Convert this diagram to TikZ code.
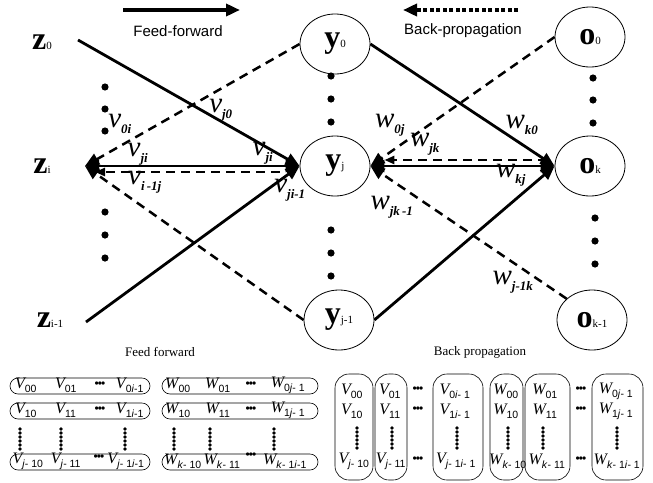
\documentclass[tikz,border=0pt]{standalone}
\usepackage{fontspec}
\setmainfont{Liberation Serif}
\setsansfont{Liberation Sans}
\usetikzlibrary{arrows.meta,shapes.geometric}
\newcommand{\nlab}[2]{{\fontsize{32}{32}\selectfont\bfseries #1}{\fontsize{11}{11}\selectfont #2}}
\newcommand{\wlab}[2]{{\fontsize{29}{29}\selectfont\itshape #1}\textsubscript{\fontsize{13}{13}\selectfont\bfseries\itshape #2}}
\newcommand{\mx}[2]{{\fontsize{16}{16}\selectfont\itshape #1}\textsubscript{\fontsize{10.5}{10.5}\selectfont\sffamily #2}}
\newcommand{\hdots}{{\fontsize{12}{12}\selectfont\bfseries •\kern-1pt•\kern-1pt•}}
\begin{document}
\begin{tikzpicture}[x=1pt,y=-1pt,
  neuron/.style={draw, ellipse, minimum width=70pt, minimum height=60pt, inner sep=0pt, line width=0.8pt},
  sol/.style={line width=2.8pt},
  dsh/.style={line width=2.5pt, dash pattern=on 9pt off 6pt},
  tip/.style={-{Triangle[length=14pt,width=12pt]}},
  tips/.style={{Triangle[length=14pt,width=12pt]}-{Triangle[length=14pt,width=12pt]}},
  stip/.style={-{Triangle[length=10pt,width=8pt]}},
  mrow/.style={draw, rounded corners=8pt, line width=0.6pt, minimum height=16pt, inner sep=0pt},
  mcol/.style={draw, rounded corners=14pt, line width=0.6pt, minimum height=106pt, inner sep=0pt},
  lab/.style={inner sep=0pt}
]
\useasboundingbox (0,0) rectangle (653,482);

% layer labels
\node[lab] (z0) at (42,42) {\nlab{z}{0}};
\node[lab] (zi) at (42,166) {\nlab{z}{i}};
\node[lab] (zi1) at (50,320) {\nlab{z}{i-1}};
\node[neuron] (y0) at (335,44) {\nlab{y}{0}};
\node[neuron] (yj) at (335,166) {\nlab{y}{j}};
\node[neuron] (yj1) at (339,320) {\nlab{y}{j-1}};
\node[neuron] (o0) at (590,37) {\nlab{o}{0}};
\node[neuron] (ok) at (590,166) {\nlab{o}{k}};
\node[neuron] (ok1) at (592,320) {\nlab{o}{k-1}};

\coordinate (z0o) at (78,40);
\coordinate (zio) at (85,166);
\coordinate (zi1o) at (86,322);

% left connectors
\draw[sol,tip] (z0o) -- (yj.west);
\draw[sol,tip] (zi1o) -- (yj.west);
\draw[sol,tips] (zio) -- (yj.west);
\draw[dsh,tip] (y0.west) -- (zio);
\draw[dsh,tip] (yj1.west) -- (zio);
\draw[dsh,stip] ([shift={(-20pt,-6pt)}]yj.west) -- ([shift={(10pt,-6pt)}]zio);

% right connectors
\draw[sol,tip] (y0.east) -- (ok.west);
\draw[sol,tip] (yj1.east) -- (ok.west);
\draw[sol,tips] (yj.east) -- (ok.west);
\draw[dsh,tip] (o0.west) -- (yj.east);
\draw[dsh,tip] (ok1.140) -- (yj.east);
\draw[dsh,stip] ([shift={(-8pt,6pt)}]ok.west) -- ([shift={(14pt,6pt)}]yj.east);

% column dots
\foreach \xx/\yy in {105/87,105/109,105/131,105/212,105/235,105/258,
                     331/76,331/99,331/122,331/230,331/253,331/276,
                     593/78,593/100,593/123,595/218,595/241,595/264}
  \fill (\xx,\yy) circle[radius=3.6pt];

% weight labels
\node[lab] (vj0) at (221,110) {\wlab{v}{j0}};
\node[lab] (v0i) at (120,124) {\wlab{v}{0i}};
\node[lab] (vji) at (138,154) {\wlab{v}{ji}};
\node[lab] (vji2) at (263,153) {\wlab{v}{ji}};
\node[lab] (vi1j) at (145,182) {\wlab{v}{i\,-1j}};
\node[lab] (vji1) at (290,190) {\wlab{v}{ji-1}};
\node[lab] (w0j) at (390,125) {\wlab{w}{0j}};
\node[lab] (wk0) at (522,125) {\wlab{w}{k0}};
\node[lab] (wjk) at (425,144) {\wlab{w}{jk}};
\node[lab] (wkj) at (511,175) {\wlab{w}{kj}};
\node[lab] (wjk1) at (392,207) {\wlab{w}{jk\,-1}};
\node[lab] (wj1k) at (513,282) {\wlab{w}{j-1k}};

% direction arrows
\coordinate (ffa) at (123,10);
\coordinate (ffb) at (240,10);
\draw[line width=3.5pt,tip] (ffa) -- (ffb);
\node[lab] (fft) at (178,31) {\sffamily\fontsize{15}{15}\selectfont Feed-forward};
\coordinate (bpa) at (518,10);
\coordinate (bpb) at (403,10);
\draw[line width=3.5pt,dash pattern=on 4pt off 2.5pt,tip] (bpa) -- (bpb);
\node[lab] (bpt) at (463,31) {\sffamily\fontsize{15}{15}\selectfont Back-propagation};

% captions
\node[lab] (cff) at (160,352) {\fontsize{13}{13}\selectfont Feed forward};
\node[lab] (cbp) at (480,352) {\fontsize{13}{13}\selectfont Back propagation};

% feed forward matrices (rows)
\node[mrow, minimum width=140pt] (vr1) at (80,386) {};
\node[mrow, minimum width=140pt] (vr2) at (80,411) {};
\node[mrow, minimum width=140pt] (vr3) at (80,462) {};
\node[mrow, minimum width=156pt] (wr1) at (240,386) {};
\node[mrow, minimum width=156pt] (wr2) at (240,411) {};
\node[mrow, minimum width=156pt] (wr3) at (240,462) {};

\node[lab] (a00) at (26,385) {\mx{V}{00}};
\node[lab] (a01) at (66,385) {\mx{V}{01}};
\node[lab] (ad1) at (100,385) {\hdots};
\node[lab] (a0n) at (130,385) {\mx{V}{0\textit{i}-1}};
\node[lab] (a10) at (26,410) {\mx{V}{10}};
\node[lab] (a11) at (66,410) {\mx{V}{11}};
\node[lab] (ad2) at (100,410) {\hdots};
\node[lab] (a1n) at (130,410) {\mx{V}{1\textit{i}-1}};
\node[lab] (am0) at (28,461) {\mx{V}{\textit{j}- 10}};
\node[lab] (am1) at (66,461) {\mx{V}{\textit{j}- 11}};
\node[lab] (ad3) at (99,458) {\hdots};
\node[lab] (amn) at (126,461) {\mx{V}{\textit{j}- 1\textit{i}-1}};

\node[lab] (b00) at (178,385) {\mx{W}{00}};
\node[lab] (b01) at (218,385) {\mx{W}{01}};
\node[lab] (bd1) at (251,385) {\hdots};
\node[lab] (b0n) at (288,385) {\mx{W}{0\textit{j}- 1}};
\node[lab] (b10) at (178,410) {\mx{W}{10}};
\node[lab] (b11) at (218,410) {\mx{W}{11}};
\node[lab] (bd2) at (251,410) {\hdots};
\node[lab] (b1n) at (288,410) {\mx{W}{1\textit{j}- 1}};
\node[lab] (bm0) at (183,461) {\mx{W}{\textit{k}- 10}};
\node[lab] (bm1) at (222,461) {\mx{W}{\textit{k}- 11}};
\node[lab] (bd3) at (251,456) {\hdots};
\node[lab] (bmn) at (285,461) {\mx{W}{\textit{k}- 1\textit{i}-1}};

\foreach \xx in {20,61,125,174,210,274}
  \foreach \yy in {429,433,...,449}
    \fill (\xx,\yy) circle[radius=1.8pt];

% back propagation matrices (columns)
\node[mcol, minimum width=38pt] (vc1) at (354,427) {};
\node[mcol, minimum width=32pt] (vc2) at (391,427) {};
\node[mcol, minimum width=50pt] (vc3) at (458,427) {};
\node[mcol, minimum width=33pt] (wc1) at (506.5,427) {};
\node[mcol, minimum width=45pt] (wc2) at (547.5,427) {};
\node[mcol, minimum width=51pt] (wc3) at (617.5,427) {};

\node[lab] (c00) at (352,391) {\mx{V}{00}};
\node[lab] (c10) at (352,411) {\mx{V}{10}};
\node[lab] (cm0) at (354,461) {\mx{V}{\textit{j}- 10}};
\node[lab] (c01) at (390,391) {\mx{V}{01}};
\node[lab] (c11) at (390,411) {\mx{V}{11}};
\node[lab] (cm1) at (391,461) {\mx{V}{\textit{j}- 11}};
\node[lab] (cd1) at (418,390) {\hdots};
\node[lab] (cd2) at (418,410) {\hdots};
\node[lab] (cd3) at (418,460) {\hdots};
\node[lab] (c0n) at (455,391) {\mx{V}{0\textit{i}- 1}};
\node[lab] (c1n) at (455,411) {\mx{V}{1\textit{i}- 1}};
\node[lab] (cmn) at (456,461) {\mx{V}{\textit{j}- 1\textit{i}- 1}};

\node[lab] (d00) at (506,391) {\mx{W}{00}};
\node[lab] (d10) at (506,411) {\mx{W}{10}};
\node[lab] (dm0) at (508,461) {\mx{W}{\textit{k}- 10}};
\node[lab] (d01) at (545,391) {\mx{W}{01}};
\node[lab] (d11) at (545,411) {\mx{W}{11}};
\node[lab] (dm1) at (547,461) {\mx{W}{\textit{k}- 11}};
\node[lab] (dd1) at (581,390) {\hdots};
\node[lab] (dd2) at (581,410) {\hdots};
\node[lab] (dd3) at (581,460) {\hdots};
\node[lab] (d0n) at (616,391) {\mx{W}{0\textit{j}- 1}};
\node[lab] (d1n) at (616,411) {\mx{W}{1\textit{j}- 1}};
\node[lab] (dmn) at (617,461) {\mx{W}{\textit{k}- 1\textit{i}- 1}};

\foreach \xx in {357,392,457,508,543,617}
  \foreach \yy in {428,432,...,448}
    \fill (\xx,\yy) circle[radius=1.8pt];
\end{tikzpicture}
\end{document}
